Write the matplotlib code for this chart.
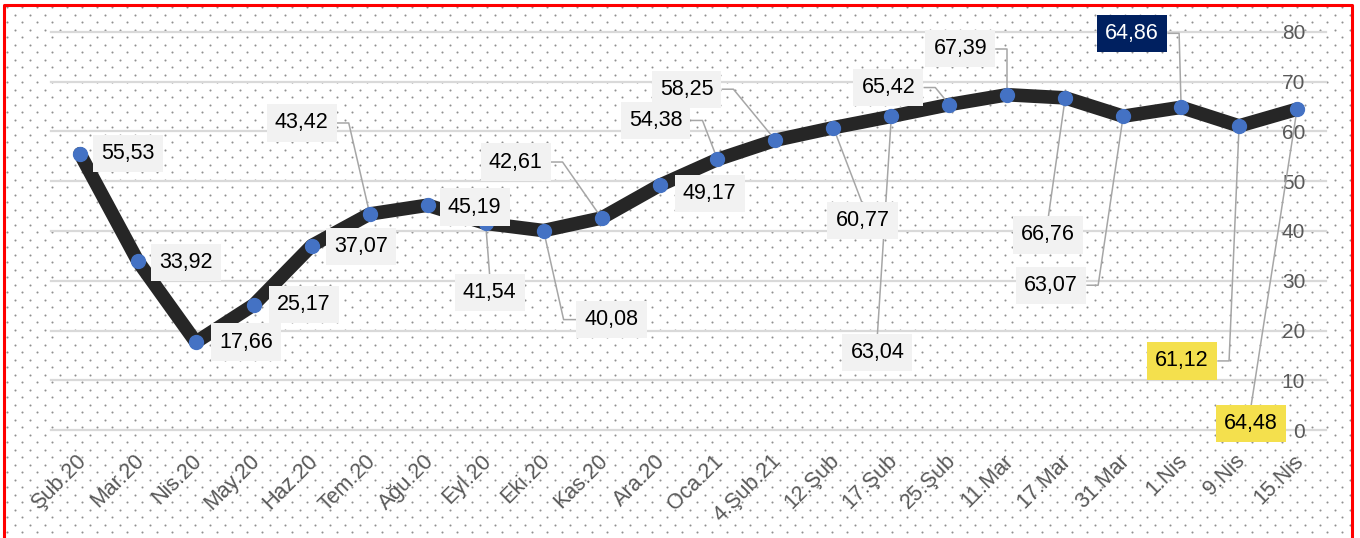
import numpy as np
import matplotlib.pyplot as plt
from matplotlib.lines import Line2D
from matplotlib.transforms import ScaledTranslation

plt.rcParams['font.family'] = ['Liberation Sans', 'DejaVu Sans']

categories = ['Şub.20', 'Mar.20', 'Nis.20', 'May.20', 'Haz.20', 'Tem.20', 'Ağu.20',
              'Eyl.20', 'Eki.20', 'Kas.20', 'Ara.20', 'Oca.21', '4.Şub.21', '12.Şub',
              '17.Şub', '25.Şub', '11.Mar', '17.Mar', '31.Mar', '1.Nis', '9.Nis', '15.Nis']
values = [55.53, 33.92, 17.66, 25.17, 37.07, 43.42, 45.19, 41.54, 40.08, 42.61, 49.17,
          54.38, 58.25, 60.77, 63.04, 65.42, 67.39, 66.76, 63.07, 64.86, 61.12, 64.48]
y_ticks = [0, 10, 20, 30, 40, 50, 60, 70, 80]

# label box offsets from the point, in pixels (dy positive = down)
label_dx = [48, 48, 50, 50, 49, -68, 47, 4, 68, -86, 50, -62, -89, 29, -14, -61, -47, -17, -72, -49, -57, -46]
label_dy = [0, 1, 0, 0, 1, -91, 2, 69, 89, -56, 8, -39, -51, 93, 236, -17, -46, 137, 169, -74, 235, 314]
leader = ['', '', '', '', '', 'r', '', 't', 'l', 'r', '', 'r', 'r', 't', 't', 'r', 'r', 't', 'r', 'r', 'r', 't']
box_fill = {19: '#002060', 20: '#f4e04d', 21: '#f4e04d'}
text_col = {19: 'white'}

W, H = 1360, 538
fig = plt.figure(figsize=(W / 100, H / 100), dpi=100)

# dotted background pattern
bg = fig.add_axes([0, 0, 1, 1], zorder=-1)
bg.set_xlim(0, W)
bg.set_ylim(H, 0)
bg.axis('off')
for k, yy in enumerate(np.arange(7.3, H, 7.5)):
    xs = np.arange(7.3 if k % 2 == 0 else 14.8, W - 8, 15)
    bg.scatter(xs, np.full(len(xs), yy), s=2.2, color='#909090', linewidths=0)

ax = fig.add_axes([51 / W, 1 - 430 / H, 1275 / W, 398 / H], zorder=1)
ax.set_facecolor('none')
for s in ax.spines.values():
    s.set_visible(False)
ax.set_xlim(-0.5, len(categories) - 0.5)
ax.set_ylim(0, 80)

for t in y_ticks:
    ax.axhline(t, color='#d9d9d9', lw=1.6, zorder=0, clip_on=False)

ax.yaxis.tick_right()
ax.set_yticks(y_ticks)
ax.set_yticklabels([str(t) for t in y_ticks])
ax.tick_params(axis='y', length=0, pad=-15, labelsize=15, labelcolor='#595959')
for lbl in ax.get_yticklabels():
    lbl.set_ha('right')

x = np.arange(len(categories))
ax.set_xticks(x)
ax.set_xticklabels(categories, rotation=45, ha='right', va='center', rotation_mode='anchor')
ax.tick_params(axis='x', length=0, pad=20, labelsize=15.5, labelcolor='#595959')
shift = ScaledTranslation(3 / 100, 0, fig.dpi_scale_trans)
for lbl in ax.get_xticklabels():
    lbl.set_transform(lbl.get_transform() + shift)

ax.plot(x, values, color='#262626', lw=9.8, solid_joinstyle='round', solid_capstyle='round', zorder=3)
ax.plot(x, values, 'o', ms=10, mfc='#4472c4', mec='#4472c4', zorder=5)

sx = 1275 / len(categories)
sy = 398 / 80
hw, hh = 36, 17
for i, v in enumerate(values):
    cx = i + label_dx[i] / sx
    cy = v - label_dy[i] / sy
    ax.text(cx, cy, f"{v:.2f}".replace('.', ','), ha='center', va='center', fontsize=15.5,
            color=text_col.get(i, 'black'), zorder=6,
            bbox=dict(boxstyle='square,pad=0.38', fc=box_fill.get(i, '#f2f2f2'), ec='none'))
    side = leader[i]
    if side == 'r':
        xs = [cx + hw / sx, cx + (hw + 11) / sx, i]
        ys = [cy, cy, v]
    elif side == 'l':
        xs = [cx - hw / sx, cx - (hw + 12) / sx, i]
        ys = [cy, cy, v]
    elif side == 't':
        xs = [cx, i]
        ys = [cy + hh / sy, v]
    else:
        continue
    ax.plot(xs, ys, color='#a6a6a6', lw=1.1, zorder=4)

# red frame (left, top, right)
frame_x = [3.5, 3.5, 1352, 1352]
frame_y = [H, 4.5, 4.5, H]
fig.add_artist(Line2D([p / W for p in frame_x], [1 - p / H for p in frame_y],
                      color='#ff0000', lw=2.2))

fig.savefig('out.png', dpi=100)
